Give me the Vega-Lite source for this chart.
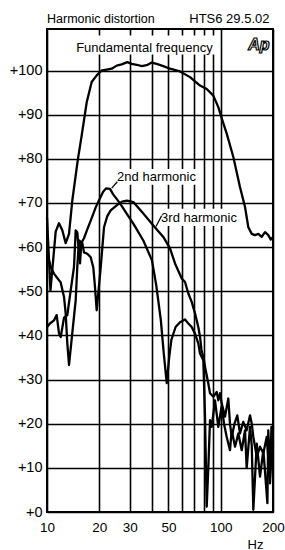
{
  "$schema": "https://vega.github.io/schema/vega-lite/v6.json",
  "autosize": {"type": "none"},
  "padding": {"left": 47, "top": 29, "right": 12, "bottom": 38},
  "width": 226,
  "height": 483,
  "background": "white",
  "title": {"text": "Harmonic distortion", "anchor": "start", "frame": "group", "fontSize": 12.5, "fontWeight": "normal", "font": "Liberation Sans", "color": "black", "offset": 6, "dy": 19},
  "config": {
    "font": "Liberation Sans",
    "view": {"stroke": "black", "strokeWidth": 2},
    "axis": {"domain": false, "ticks": false, "grid": true, "gridColor": "black", "gridWidth": 1.6, "gridOpacity": 1, "labelColor": "black", "labelFontSize": 13, "labelFont": "Liberation Sans", "titleColor": "black", "titleFont": "Liberation Sans", "titleFontSize": 13, "titleFontWeight": "normal"}
  },
  "datasets": {
    "curves": [
      {"s": "fund", "f": 10, "v": 66.7}, {"s": "fund", "f": 10.47, "v": 50.2}, {"s": "fund", "f": 11.22, "v": 63.5}, {"s": "fund", "f": 11.72, "v": 65.4}, {"s": "fund", "f": 12.25, "v": 63.8}, {"s": "fund", "f": 12.81, "v": 60.9}, {"s": "fund", "f": 13.39, "v": 63}, {"s": "fund", "f": 13.98, "v": 70.5}, {"s": "fund", "f": 15.02, "v": 79.6}, {"s": "fund", "f": 15.84, "v": 85.3}, {"s": "fund", "f": 16.93, "v": 92.8}, {"s": "fund", "f": 18.08, "v": 97.4}, {"s": "fund", "f": 19.32, "v": 98.9}, {"s": "fund", "f": 20.64, "v": 100}, {"s": "fund", "f": 22.06, "v": 100.2}, {"s": "fund", "f": 23.57, "v": 100.4}, {"s": "fund", "f": 25.19, "v": 101.1}, {"s": "fund", "f": 26.92, "v": 101.4}, {"s": "fund", "f": 28.99, "v": 101.9}, {"s": "fund", "f": 30.74, "v": 101.5}, {"s": "fund", "f": 32.85, "v": 101.3}, {"s": "fund", "f": 35.1, "v": 101}, {"s": "fund", "f": 37.5, "v": 101.2}, {"s": "fund", "f": 40.08, "v": 101.8}, {"s": "fund", "f": 42.81, "v": 101.5}, {"s": "fund", "f": 46.72, "v": 101}, {"s": "fund", "f": 51.07, "v": 100.4}, {"s": "fund", "f": 58.31, "v": 99.8}, {"s": "fund", "f": 66.58, "v": 98.5}, {"s": "fund", "f": 76.01, "v": 96.6}, {"s": "fund", "f": 83.07, "v": 95.8}, {"s": "fund", "f": 90.67, "v": 94.3}, {"s": "fund", "f": 96.87, "v": 91.7}, {"s": "fund", "f": 101.7, "v": 89}, {"s": "fund", "f": 108.3, "v": 85.7}, {"s": "fund", "f": 118.2, "v": 80.4}, {"s": "fund", "f": 129.1, "v": 73.6}, {"s": "fund", "f": 138, "v": 69.1}, {"s": "fund", "f": 144.2, "v": 64.5}, {"s": "fund", "f": 150.9, "v": 63}, {"s": "fund", "f": 157.6, "v": 62.7}, {"s": "fund", "f": 164.7, "v": 63}, {"s": "fund", "f": 172.2, "v": 62.3}, {"s": "fund", "f": 179.9, "v": 63.4}, {"s": "fund", "f": 187.9, "v": 62.7}, {"s": "fund", "f": 194.1, "v": 61.7}, {"s": "fund", "f": 200, "v": 62.3},
      {"s": "h2", "f": 10, "v": 41.9}, {"s": "h2", "f": 10.4, "v": 42.7}, {"s": "h2", "f": 10.97, "v": 43.4}, {"s": "h2", "f": 11.37, "v": 44.6}, {"s": "h2", "f": 11.72, "v": 40.5}, {"s": "h2", "f": 11.99, "v": 39.6}, {"s": "h2", "f": 12.53, "v": 44}, {"s": "h2", "f": 13.09, "v": 44.6}, {"s": "h2", "f": 13.69, "v": 50.2}, {"s": "h2", "f": 14.3, "v": 55.5}, {"s": "h2", "f": 14.63, "v": 63.8}, {"s": "h2", "f": 14.94, "v": 63.3}, {"s": "h2", "f": 15.49, "v": 56.3}, {"s": "h2", "f": 15.75, "v": 60.9}, {"s": "h2", "f": 16.33, "v": 62}, {"s": "h2", "f": 17.06, "v": 64}, {"s": "h2", "f": 17.85, "v": 66}, {"s": "h2", "f": 19.07, "v": 69}, {"s": "h2", "f": 19.93, "v": 70.6}, {"s": "h2", "f": 21.01, "v": 72.5}, {"s": "h2", "f": 21.86, "v": 73.3}, {"s": "h2", "f": 23.05, "v": 73.2}, {"s": "h2", "f": 23.99, "v": 72}, {"s": "h2", "f": 26.33, "v": 69.9}, {"s": "h2", "f": 28.5, "v": 67.8}, {"s": "h2", "f": 31.4, "v": 65.3}, {"s": "h2", "f": 35.85, "v": 61.5}, {"s": "h2", "f": 40.2, "v": 57}, {"s": "h2", "f": 42.5, "v": 51.5}, {"s": "h2", "f": 45.2, "v": 43.5}, {"s": "h2", "f": 47, "v": 36}, {"s": "h2", "f": 48.9, "v": 29.2}, {"s": "h2", "f": 50.5, "v": 35}, {"s": "h2", "f": 52, "v": 39}, {"s": "h2", "f": 55, "v": 41.9}, {"s": "h2", "f": 58.3, "v": 43}, {"s": "h2", "f": 62.3, "v": 43.6}, {"s": "h2", "f": 65.1, "v": 42.7}, {"s": "h2", "f": 68.08, "v": 41.9}, {"s": "h2", "f": 71.12, "v": 40.4}, {"s": "h2", "f": 74.3, "v": 38.2}, {"s": "h2", "f": 76.01, "v": 35.9}, {"s": "h2", "f": 79.41, "v": 34.4}, {"s": "h2", "f": 81.22, "v": 21.6}, {"s": "h2", "f": 83.07, "v": 1.2}, {"s": "h2", "f": 84.85, "v": 10}, {"s": "h2", "f": 86.78, "v": 20.8}, {"s": "h2", "f": 88.75, "v": 19.3}, {"s": "h2", "f": 92.7, "v": 25.3}, {"s": "h2", "f": 96.87, "v": 19.3}, {"s": "h2", "f": 101.3, "v": 24}, {"s": "h2", "f": 104.5, "v": 20}, {"s": "h2", "f": 108.3, "v": 17}, {"s": "h2", "f": 113.1, "v": 14}, {"s": "h2", "f": 115.7, "v": 18.5}, {"s": "h2", "f": 120.9, "v": 14.8}, {"s": "h2", "f": 126.3, "v": 17.8}, {"s": "h2", "f": 132.1, "v": 14}, {"s": "h2", "f": 138, "v": 18.5}, {"s": "h2", "f": 141.1, "v": 10}, {"s": "h2", "f": 147.5, "v": 19.3}, {"s": "h2", "f": 150.9, "v": 15}, {"s": "h2", "f": 154.1, "v": 0.5}, {"s": "h2", "f": 161.3, "v": 15.5}, {"s": "h2", "f": 168.4, "v": 8}, {"s": "h2", "f": 176, "v": 14}, {"s": "h2", "f": 185.7, "v": 2}, {"s": "h2", "f": 187.9, "v": 18.5}, {"s": "h2", "f": 192.2, "v": 8.8}, {"s": "h2", "f": 196, "v": 19.3}, {"s": "h2", "f": 200, "v": 15},
      {"s": "h3", "f": 10, "v": 59}, {"s": "h3", "f": 10.5, "v": 55.5}, {"s": "h3", "f": 10.97, "v": 54}, {"s": "h3", "f": 11.46, "v": 53}, {"s": "h3", "f": 11.99, "v": 52}, {"s": "h3", "f": 12.53, "v": 48.7}, {"s": "h3", "f": 12.81, "v": 45}, {"s": "h3", "f": 13.09, "v": 38.2}, {"s": "h3", "f": 13.39, "v": 33.3}, {"s": "h3", "f": 13.98, "v": 40.5}, {"s": "h3", "f": 14.63, "v": 48}, {"s": "h3", "f": 14.94, "v": 55.5}, {"s": "h3", "f": 15.29, "v": 61.5}, {"s": "h3", "f": 15.97, "v": 60.9}, {"s": "h3", "f": 16.33, "v": 58.8}, {"s": "h3", "f": 17.06, "v": 58.5}, {"s": "h3", "f": 17.85, "v": 57.7}, {"s": "h3", "f": 18.47, "v": 55.4}, {"s": "h3", "f": 18.82, "v": 51.8}, {"s": "h3", "f": 19.32, "v": 45.7}, {"s": "h3", "f": 20.38, "v": 55.4}, {"s": "h3", "f": 21.29, "v": 64.5}, {"s": "h3", "f": 22.24, "v": 67}, {"s": "h3", "f": 23.26, "v": 68.3}, {"s": "h3", "f": 25.29, "v": 69.5}, {"s": "h3", "f": 27.03, "v": 70.3}, {"s": "h3", "f": 28.88, "v": 70.5}, {"s": "h3", "f": 31.4, "v": 70.2}, {"s": "h3", "f": 35.85, "v": 67.6}, {"s": "h3", "f": 40.93, "v": 64.9}, {"s": "h3", "f": 46.72, "v": 62.3}, {"s": "h3", "f": 51.07, "v": 59.7}, {"s": "h3", "f": 54.58, "v": 56.3}, {"s": "h3", "f": 59.64, "v": 52.9}, {"s": "h3", "f": 62.31, "v": 52.1}, {"s": "h3", "f": 65.1, "v": 49.5}, {"s": "h3", "f": 68.08, "v": 47.6}, {"s": "h3", "f": 71.12, "v": 45}, {"s": "h3", "f": 74.3, "v": 41.9}, {"s": "h3", "f": 76.01, "v": 39.7}, {"s": "h3", "f": 77.5, "v": 36.7}, {"s": "h3", "f": 79.41, "v": 35.1}, {"s": "h3", "f": 81.22, "v": 32.9}, {"s": "h3", "f": 84.85, "v": 29.1}, {"s": "h3", "f": 86.78, "v": 26.9}, {"s": "h3", "f": 90.67, "v": 26.1}, {"s": "h3", "f": 94.85, "v": 27.2}, {"s": "h3", "f": 96.87, "v": 25.3}, {"s": "h3", "f": 99.08, "v": 26.9}, {"s": "h3", "f": 101.3, "v": 24.6}, {"s": "h3", "f": 105.9, "v": 21.6}, {"s": "h3", "f": 110.6, "v": 25.7}, {"s": "h3", "f": 113.1, "v": 20}, {"s": "h3", "f": 115.7, "v": 17}, {"s": "h3", "f": 120.1, "v": 20}, {"s": "h3", "f": 124.6, "v": 21.9}, {"s": "h3", "f": 129.1, "v": 17.8}, {"s": "h3", "f": 134.9, "v": 20.4}, {"s": "h3", "f": 141.1, "v": 18.5}, {"s": "h3", "f": 147.5, "v": 21.9}, {"s": "h3", "f": 150.9, "v": 20}, {"s": "h3", "f": 154.1, "v": 17}, {"s": "h3", "f": 161.3, "v": 12.5}, {"s": "h3", "f": 168.4, "v": 14.8}, {"s": "h3", "f": 176, "v": 13.3}, {"s": "h3", "f": 184, "v": 17}, {"s": "h3", "f": 192.2, "v": 6.5}, {"s": "h3", "f": 200, "v": 19.3}
    ],
    "boxes": [
      {"f": 14.3, "f2": 94, "v": 103.6, "v2": 107.9},
      {"f": 24.3, "f2": 75, "v": 74.1, "v2": 77.7},
      {"f": 43.6, "f2": 129, "v": 64.8, "v2": 68.7}
    ],
    "leaders": [
      {"f": 23.58, "v": 73.35, "f2": 25.4, "v2": 74.8},
      {"f": 42.4, "v": 64.65, "f2": 45.7, "v2": 67.1}
    ],
    "labels": [
      {"f": 36.4, "v": 105.1, "t": "Fundamental frequency"},
      {"f": 42.7, "v": 75.9, "t": "2nd harmonic"},
      {"f": 75.0, "v": 66.7, "t": "3rd harmonic"}
    ],
    "logo": [{"f": 166, "v": 105.8, "t": "Ap"}]
  },
  "layer": [
    {
      "data": {"name": "curves"},
      "mark": {"type": "line", "stroke": "black", "strokeWidth": 2.3, "strokeJoin": "round"},
      "encoding": {
        "x": {"field": "f", "type": "quantitative", "scale": {"type": "log", "domain": [10, 200], "nice": false},
          "axis": {"values": [10, 20, 30, 40, 50, 60, 70, 80, 90, 100, 200], "labelExpr": "indexof([10,20,30,50,100,200], datum.value) >= 0 ? format(datum.value, 'd') : ''", "labelFlush": false, "labelOverlap": false, "labelPadding": 8, "labelFontSize": 13.5, "title": "Hz", "titleX": 208, "titleY": 26, "titleAlign": "center", "titleBaseline": "top"}},
        "y": {"field": "v", "type": "quantitative", "scale": {"domain": [0, 109.4], "nice": false, "zero": false},
          "axis": {"values": [0, 10, 20, 30, 40, 50, 60, 70, 80, 90, 100], "labelExpr": "'+' + datum.value", "labelPadding": 5, "labelFontSize": 14.5, "labelOverlap": false, "title": "HTS6 29.5.02", "titleAngle": 0, "titleX": 222, "titleY": -7, "titleAlign": "right", "titleBaseline": "alphabetic"}},
        "detail": {"field": "s"}
      }
    },
    {
      "data": {"name": "boxes"},
      "mark": {"type": "rect", "fill": "white", "stroke": null},
      "encoding": {
        "x": {"field": "f", "type": "quantitative"},
        "x2": {"field": "f2"},
        "y": {"field": "v", "type": "quantitative"},
        "y2": {"field": "v2"}
      }
    },
    {
      "data": {"name": "leaders"},
      "mark": {"type": "rule", "stroke": "black", "strokeWidth": 1.3},
      "encoding": {
        "x": {"field": "f", "type": "quantitative"},
        "x2": {"field": "f2"},
        "y": {"field": "v", "type": "quantitative"},
        "y2": {"field": "v2"}
      }
    },
    {
      "data": {"name": "labels"},
      "mark": {"type": "text", "fontSize": 13, "font": "Liberation Sans", "color": "black", "baseline": "middle", "align": "center"},
      "encoding": {
        "x": {"field": "f", "type": "quantitative"},
        "y": {"field": "v", "type": "quantitative"},
        "text": {"field": "t"}
      }
    },
    {
      "data": {"name": "logo"},
      "mark": {"type": "text", "fontSize": 16, "font": "Liberation Sans", "fontStyle": "italic", "fontWeight": "bold", "fill": "white", "stroke": "black", "strokeWidth": 1.2, "baseline": "middle", "align": "center"},
      "encoding": {
        "x": {"field": "f", "type": "quantitative"},
        "y": {"field": "v", "type": "quantitative"},
        "text": {"field": "t"}
      }
    }
  ]
}
